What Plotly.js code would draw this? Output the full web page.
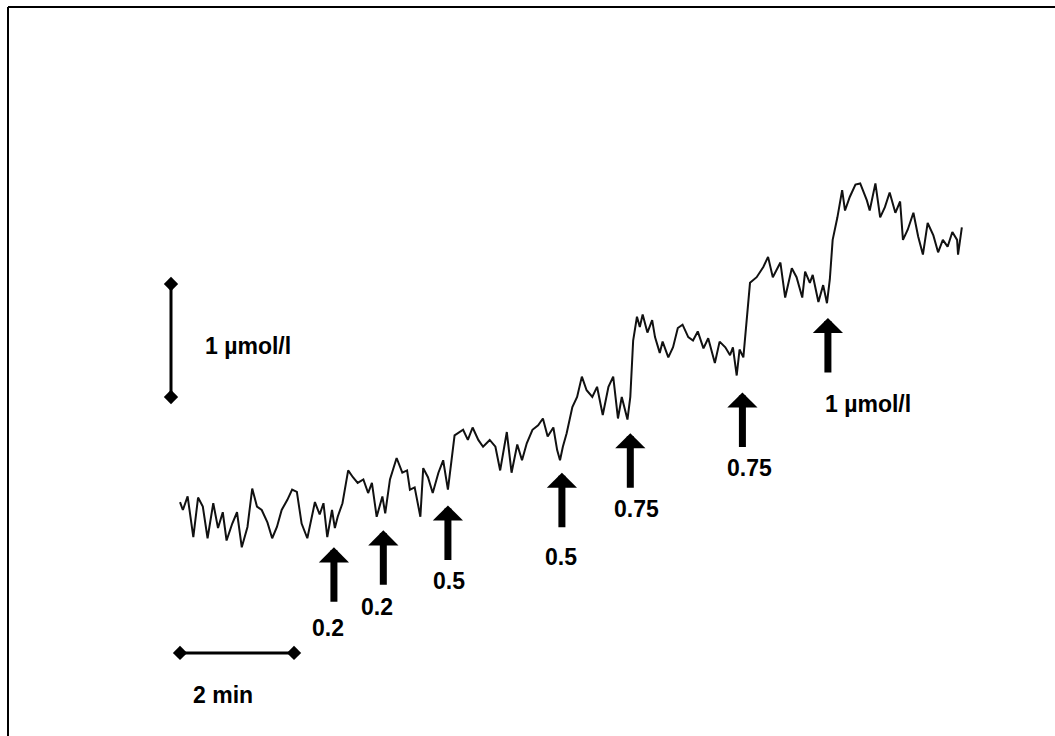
<!DOCTYPE html>
<html>
<head>
<meta charset="utf-8">
<script src="https://cdn.plot.ly/plotly-3.0.1.min.js"></script>
<style>html,body{margin:0;padding:0;background:#fff;}#chart{width:1055px;height:736px;}</style>
</head>
<body>
<div id="chart"></div>
<script>
// Time (s) from start of recording, and concentration change (µmol/l)
const timeS = [0,3,8,14,19,24,29,35,40,45,49,55,60,65,71,76,81,86,92,97,102,107,113,118,123,128,134,137,142,147,151,155,160,163,166,171,177,182,187,193,198,202,207,213,216,221,228,234,239,242,247,253,256,261,266,272,277,282,286,289,298,303,308,314,319,326,332,337,344,349,355,360,365,371,377,382,387,393,397,400,403,407,413,418,423,428,434,439,445,451,456,461,465,471,474,477,481,484,487,492,497,500,505,508,514,519,524,529,535,540,545,551,556,563,568,574,579,582,586,589,593,597,600,607,614,619,624,632,637,644,649,655,658,663,666,672,677,681,684,687,692,697,700,705,711,716,723,726,732,737,742,747,753,758,761,766,772,777,782,787,793,798,803,808,813,818,819,823];
const concUM = [0.07,0,0.12,-0.24,0.11,0.03,-0.25,0.06,-0.16,-0.02,-0.27,-0.12,-0.02,-0.33,-0.15,0.19,0.03,0,-0.11,-0.25,-0.15,0,0.09,0.18,0.16,-0.12,-0.25,-0.12,0.07,-0.04,0.06,-0.24,0,-0.16,-0.06,0.06,0.35,0.29,0.24,0.27,0.15,0.24,-0.06,0.12,-0.03,0.27,0.46,0.33,0.35,0.18,0.20,-0.06,0.37,0.29,0.15,0.33,0.44,0.18,0.44,0.66,0.71,0.62,0.73,0.62,0.56,0.62,0.56,0.35,0.69,0.33,0.58,0.44,0.59,0.71,0.75,0.81,0.65,0.73,0.53,0.44,0.56,0.68,0.91,1.00,1.18,1.06,1.00,1.09,0.84,1.09,1.18,0.81,1.00,0.80,1.00,1.50,1.71,1.62,1.73,1.57,1.68,1.53,1.39,1.49,1.35,1.44,1.61,1.64,1.53,1.50,1.58,1.43,1.52,1.30,1.49,1.44,1.37,1.44,1.19,1.42,1.35,1.71,2.01,2.06,2.15,2.24,2.06,2.19,1.88,2.14,2.06,1.88,2.11,2.01,2.08,1.84,1.99,1.83,2.04,2.39,2.59,2.83,2.65,2.77,2.88,2.89,2.74,2.65,2.89,2.59,2.68,2.81,2.63,2.73,2.39,2.48,2.63,2.42,2.26,2.54,2.43,2.28,2.39,2.33,2.46,2.39,2.26,2.50];

// Injections: time (s), dose label
const injTimes = [162,214,282,402,474,592,682];
const injLabels = ['0.2','0.2','0.5','0.5','0.75','0.75','1 µmol/l'];

// Scale bars
const scaleTime = [0,120];       // 2 min
const scaleConc = [1,2];         // 1 µmol/l

// layout positions (data units) for arrow tips and labels
const arrowTipY = [-0.33,-0.18,0.04,0.33,0.68,1.04,1.70];
const labelPos = [[156,-1.04],[207,-0.86],[283,-0.63],[401,-0.42],[480,0.01],[599,0.37],[724,0.94]];

const FONT = 'Liberation Sans, Arial, sans-serif';

const traces = [
  {x: timeS, y: concUM, mode:'lines', line:{color:'#111', width:2}, hoverinfo:'skip', showlegend:false},
  {x: [-9.5,-9.5], y: scaleConc, mode:'lines+markers', line:{color:'#000', width:3},
   marker:{symbol:'diamond', size:11, color:'#000'}, showlegend:false, hoverinfo:'skip'},
  {x: scaleTime, y: [-1.265,-1.265], mode:'lines+markers', line:{color:'#000', width:3},
   marker:{symbol:'diamond', size:11, color:'#000'}, showlegend:false, hoverinfo:'skip'}
];

const annotations = [];
injTimes.forEach((t,i)=>{
  annotations.push({x:t, y:arrowTipY[i], xref:'x', yref:'y', ax:0, ay:56, text:'', showarrow:true,
    arrowhead:1, arrowwidth:7, arrowsize:0.72, arrowcolor:'#000', standoff:0});
  annotations.push({x:labelPos[i][0], y:labelPos[i][1], xref:'x', yref:'y', text:injLabels[i], showarrow:false,
    font:{family:FONT, size:23, color:'#000', weight:'bold'}});
});
annotations.push({x:72, y:1.45, xref:'x', yref:'y', text:'1 µmol/l', showarrow:false,
  font:{family:FONT, size:23, color:'#000', weight:'bold'}});
annotations.push({x:45, y:-1.64, xref:'x', yref:'y', text:'2 min', showarrow:false,
  font:{family:FONT, size:23, color:'#000', weight:'bold'}});

const layout = {
  width:1055, height:736,
  margin:{l:0,r:0,t:0,b:0},
  paper_bgcolor:'#fff', plot_bgcolor:'#fff',
  xaxis:{range:[-189.5,921.05], visible:false, fixedrange:true},
  yaxis:{range:[-2.0,4.513], visible:false, fixedrange:true},
  showlegend:false,
  annotations: annotations,
  shapes:[
    {type:'line', xref:'paper', yref:'paper', x0:8/1055, x1:8/1055, y0:0, y1:1-7/736, line:{color:'#000', width:2}},
    {type:'line', xref:'paper', yref:'paper', x0:8/1055, x1:1, y0:1-7/736, y1:1-7/736, line:{color:'#000', width:2}}
  ]
};

Plotly.newPlot('chart', traces, layout, {staticPlot:true});
</script>
</body>
</html>
